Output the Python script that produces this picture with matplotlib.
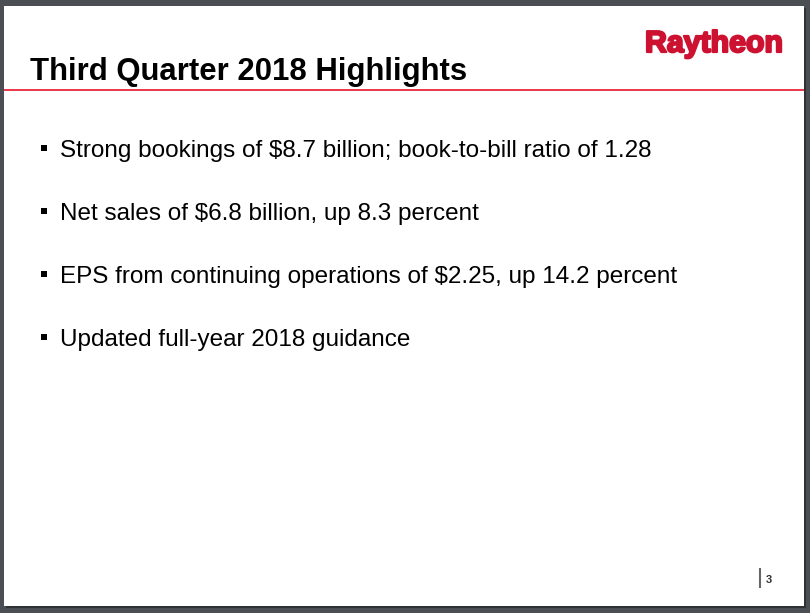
import matplotlib
matplotlib.use("Agg")
import matplotlib.pyplot as plt
from matplotlib.patches import Rectangle
import matplotlib.patheffects as pe

title = "Third Quarter 2018 Highlights"
logo = "Raytheon"
bullets = [
    "Strong bookings of $8.7 billion; book-to-bill ratio of 1.28",
    "Net sales of $6.8 billion, up 8.3 percent",
    "EPS from continuing operations of $2.25, up 14.2 percent",
    "Updated full-year 2018 guidance",
]
page_number = "3"

W, H = 810, 613
fig = plt.figure(figsize=(W / 100, H / 100), dpi=100, facecolor="#4b4f54")
ax = fig.add_axes([0, 0, 1, 1])
ax.set_xlim(0, W)
ax.set_ylim(H, 0)
ax.axis("off")

# page shadow and page
ax.add_patch(Rectangle((6, 8), 800, 600, facecolor="#2f3235", edgecolor="none"))
ax.add_patch(Rectangle((4, 6), 800, 600, facecolor="white", edgecolor="none"))

font = "Liberation Sans"
# header
ax.text(30, 80, title, fontsize=22.4, fontweight="bold", family=font,
        color="black", va="baseline", ha="left")
ax.plot([4, 804], [90, 90], color="#e8283a", lw=1.3, solid_capstyle="butt")
ax.text(645, 52, logo, fontsize=21.8, fontweight="bold", family=font,
        color="#cc1131", va="baseline", ha="left",
        path_effects=[pe.withStroke(linewidth=1.6, foreground="#cc1131")])

# bullets
for i, b in enumerate(bullets):
    y = 157 + i * 63
    ax.add_patch(Rectangle((41, y - 12), 6, 6, facecolor="black", edgecolor="none"))
    ax.text(60, y, b, fontsize=17.5, family=font, color="black",
            va="baseline", ha="left")

# page number
ax.plot([760, 760], [569, 587], color="#666666", lw=1.5)
ax.text(766, 583, page_number, fontsize=8, fontweight="bold", family=font,
        color="#333333", va="baseline", ha="left")

fig.savefig("out.png", dpi=100, facecolor=fig.get_facecolor())
